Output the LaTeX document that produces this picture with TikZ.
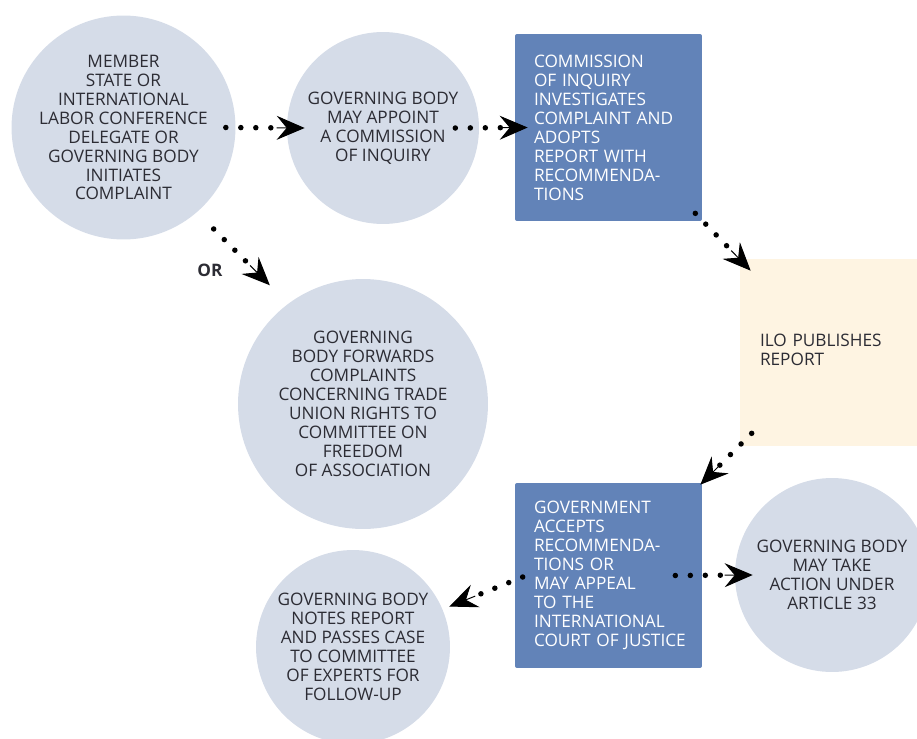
\documentclass[tikz,border=0pt]{standalone}
\usepackage{fontspec}
\setmainfont{Open Sans}
\usetikzlibrary{arrows.meta,calc}
\definecolor{bubble}{HTML}{D5DCE8}
\definecolor{steel}{HTML}{6283B8}
\definecolor{cream}{HTML}{FEF4E2}
\definecolor{ink}{HTML}{2C2C34}

\begin{document}
\begin{tikzpicture}[x=0.02cm, y=-0.02cm,
        font=\fontsize{9.8}{10.8}\selectfont, text=ink,
        circ/.style={circle, fill=bubble, align=center, inner sep=0pt},
        bluebox/.style={rectangle, fill=steel, rounded corners=0.04cm, text=white,
            text width=3.74cm, align=left, inner xsep=0pt, minimum height=3.74cm},
        creambox/.style={rectangle, fill=cream, text width=3.74cm, align=left,
            inner xsep=0pt, minimum height=3.74cm},
        flow/.style={line width=0.11cm, line cap=round, dash pattern=on 0pt off 0.3cm},
        tip/.style={-{Stealth[length=0.56cm 0, width=0.48cm 0, inset=0.2cm 0]}}]
    \useasboundingbox (0,0) rectangle (917,738);
    \clip (0,0) rectangle (917,738);

    % bubbles
    \node[circ, minimum size=4.48cm] (member) at (123.5,127.5)
        {MEMBER\\STATE OR\\INTERNATIONAL\\LABOR CONFERENCE\\DELEGATE OR\\GOVERNING BODY\\INITIATES\\COMPLAINT};
    \node[circ, minimum size=3.84cm] (appoint) at (383,128)
        {GOVERNING BODY\\MAY APPOINT\\A COMMISSION\\OF INQUIRY};
    \node[circ, minimum size=5cm] (forward) at (363,404)
        {GOVERNING\\BODY FORWARDS\\COMPLAINTS\\CONCERNING TRADE\\UNION RIGHTS TO\\COMMITTEE ON\\FREEDOM\\OF ASSOCIATION};
    \node[circ, minimum size=3.88cm] (article) at (832,575)
        {GOVERNING BODY\\MAY TAKE\\ACTION UNDER\\ARTICLE 33};
    \node[circ, minimum size=3.88cm] (notes) at (353,647)
        {GOVERNING BODY\\NOTES REPORT\\AND PASSES CASE\\TO COMMITTEE\\OF EXPERTS FOR\\FOLLOW-UP};

    % boxes
    \node[bluebox] (inquiry) at (608.5,127.5)
        {\leftskip=0.38cm COMMISSION\\OF INQUIRY\\INVESTIGATES\\COMPLAINT AND\\ADOPTS\\REPORT WITH\\RECOMMENDA-\\TIONS\par};
    \node[creambox] (publish) at (833.5,352.5)
        {\leftskip=0.4cm ILO PUBLISHES\\REPORT\par\vspace{0.1cm}};
    \node[bluebox, minimum height=3.7cm] (govt) at (608.5,575.5)
        {\leftskip=0.38cm GOVERNMENT\\ACCEPTS\\RECOMMENDA-\\TIONS OR\\MAY APPEAL\\TO THE\\INTERNATIONAL\\COURT OF JUSTICE\par};

    \node[font=\fontsize{9.8}{10.8}\selectfont\bfseries] (orlabel) at (210,270) {OR};

    % arrow ends
    \coordinate (s1) at ([shift={(-10,0)}]member.east);
    \coordinate (e1) at ([shift={(18,0)}]appoint.west);
    \coordinate (s2) at ([shift={(-24,0)}]appoint.east);
    \coordinate (e2) at ([shift={(13,0)}]inquiry.west);
    \coordinate (s3) at ([shift={(15,18)}]member.-48);
    \coordinate (e3) at ([shift={(-16,-20)}]forward.128);
    \coordinate (s4) at ([shift={(-7,-8)}]inquiry.south east);
    \coordinate (e4) at ([shift={(11,12)}]publish.north west);
    \coordinate (s5) at ([shift={(12,-13)}]publish.south west);
    \coordinate (e5) at ([shift={(-2,2)}]govt.north east);
    \coordinate (s6) at ([shift={(8,1.5)}]govt.west);
    \coordinate (e6) at ([shift={(6,-4)}]notes.22);
    \coordinate (s7) at ([shift={(-27,0)}]govt.east);
    \coordinate (e7) at ([shift={(18,0)}]article.west);

    % dotted arrows: dots first, then a solid head
    \foreach \i in {1,...,7}{
        \draw[flow, shorten >=0.5cm] (s\i) -- (e\i);
        \draw[tip, line width=0.02cm] ($(e\i)!0.56cm!(s\i)$) -- (e\i);
    }
\end{tikzpicture}
\end{document}
